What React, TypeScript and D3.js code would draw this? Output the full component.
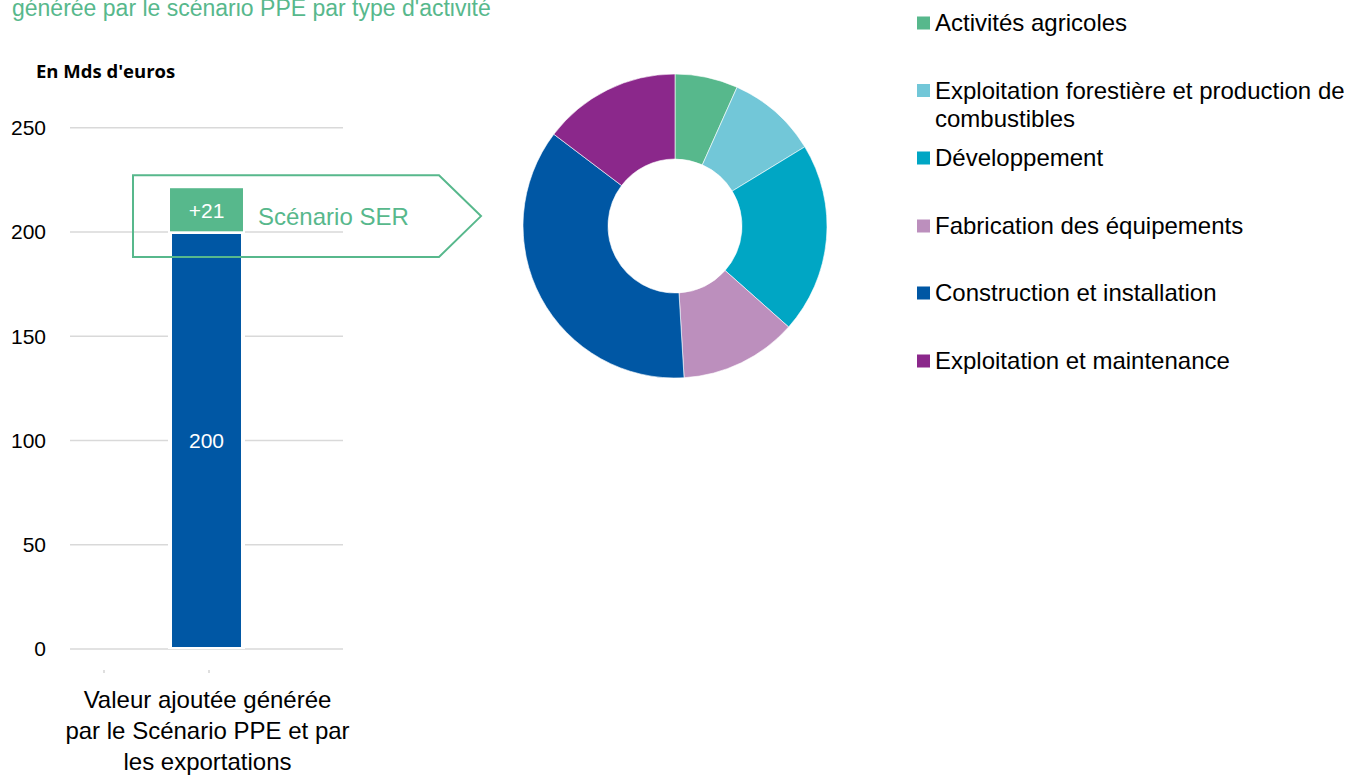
import React from "react";
import * as d3 from "d3";

// bar chart data
const barCategories = ["Valeur ajoutée générée par le Scénario PPE et par les exportations"];
const categoryLines = ["Valeur ajoutée générée", "par le Scénario PPE et par", "les exportations"];
const ppeValues = [200];
const serValues = [21];
const yTicks = [0, 50, 100, 150, 200, 250];

// donut data (share of value added, %)
const activities = [
  "Activités agricoles",
  "Exploitation forestière et production de combustibles",
  "Développement",
  "Fabrication des équipements",
  "Construction et installation",
  "Exploitation et maintenance",
];
const activityLegend = [
  ["Activités agricoles"],
  ["Exploitation forestière et production de", "combustibles"],
  ["Développement"],
  ["Fabrication des équipements"],
  ["Construction et installation"],
  ["Exploitation et maintenance"],
];
const activityShares = [6.7, 9.6, 20.3, 12.5, 36.3, 14.7];
const activityColors = ["#57B88C", "#72C7D8", "#00A6C4", "#BC8FBD", "#0057A4", "#8B288B"];

const GREEN = "#57B88C";
const BLUE = "#0057A4";
const FONT = "'Liberation Sans', Arial, sans-serif";

export default function App() {
  const y = d3.scaleLinear().domain([0, 250]).range([649, 127.75]);
  const x = d3
    .scaleBand()
    .domain(barCategories)
    .range([70, 343])
    .paddingInner(0.5966)
    .paddingOuter(0.5966);

  const bw = x.bandwidth();
  const cat = barCategories[0];
  const bx = x(cat) as number;
  const cx = bx + bw / 2;
  const base = ppeValues[0];
  const ser = serValues[0];

  // donut
  const pie = d3
    .pie<number>()
    .sort(null)
    .value((d) => d);
  const arcs = pie(activityShares);
  const arc = d3.arc<d3.PieArcDatum<number>>().innerRadius(67).outerRadius(152);
  const donutX = 675;
  const donutY = 226;

  // annotation arrow round the SER part
  const aTop = y(base + ser) - 13;
  const aBot = y(base) + 25;
  const aLeft = bx - 39;
  const aRight = 439;
  const arrow = `M${aLeft},${aTop}H${aRight}L${aRight + 42},${(aTop + aBot) / 2}L${aRight},${aBot}H${aLeft}Z`;

  const legendRows = [23, 90.5, 158, 226, 293, 361];

  return (
    <svg
      width={1347}
      height={776}
      style={{ position: "absolute", left: 0, top: 0, background: "#fff" }}
      fontFamily={FONT}
    >
      {/* title (cut at the top, as in the source) */}
      <text x={12} y={15.5} fontSize={23} fill={GREEN}>
        générée par le scénario PPE par type d'activité
      </text>

      <text x={36} y={78} fontSize={18.5} fontWeight="bold" fontFamily="'Open Sans', sans-serif" fill="#000">
        En Mds d'euros
      </text>

      {/* gridlines and y labels */}
      {yTicks.map((t) => (
        <g key={t}>
          <line x1={70} x2={343} y1={y(t)} y2={y(t)} stroke="#D9D9D9" strokeWidth={1.5} />
          <text x={46} y={y(t)} dy="0.35em" textAnchor="end" fontSize={21} fill="#000">
            {t}
          </text>
        </g>
      ))}

      {/* stacked bar */}
      <rect x={bx - 4} y={y(base)} width={bw + 8} height={y(0) - y(base)} fill="#fff" />
      <rect x={bx} y={y(base) + 2} width={bw} height={y(0) - y(base) - 4} fill={BLUE} />
      <rect x={bx - 4} y={y(base + ser) - 1} width={bw + 8} height={y(base) - y(base + ser) + 2} fill="#fff" />
      <rect x={bx - 2} y={y(base + ser)} width={bw + 4} height={y(base) - y(base + ser) - 0.7} fill={GREEN} />
      <text x={cx} y={(y(base + ser) + y(base)) / 2 + 1} dy="0.35em" textAnchor="middle" fontSize={21} fill="#fff">
        +{ser}
      </text>
      <text x={cx} y={y(base / 2)} dy="0.35em" textAnchor="middle" fontSize={21} fill="#fff">
        {base}
      </text>

      <path d={arrow} fill="none" stroke={GREEN} strokeWidth={2} />
      <text x={258} y={(aTop + aBot) / 2} dy="0.35em" fontSize={24} fill={GREEN}>
        Scénario SER
      </text>

      {/* tiny axis ticks */}
      {[bx - 68, bx + 37].map((tx, i) => (
        <line key={i} x1={tx} x2={tx} y1={670} y2={673} stroke="#BFBFBF" strokeWidth={1} />
      ))}

      {/* category label */}
      {categoryLines.map((l, i) => (
        <text key={i} x={cx + 1} y={708 + i * 31} textAnchor="middle" fontSize={24} fill="#000">
          {l}
        </text>
      ))}

      {/* donut */}
      <g transform={`translate(${donutX},${donutY})`}>
        {arcs.map((a, i) => (
          <path key={activities[i]} d={arc(a) as string} fill={activityColors[i]} stroke="#fff" strokeWidth={0.6} />
        ))}
      </g>

      {/* legend */}
      {activityLegend.map((lines, i) => (
        <g key={i}>
          <rect x={917} y={legendRows[i] - 6.5} width={13} height={13} fill={activityColors[i]} />
          {lines.map((l, j) => (
            <text key={j} x={935} y={legendRows[i] + j * 28} dy="0.35em" fontSize={24} fill="#000">
              {l}
            </text>
          ))}
        </g>
      ))}
    </svg>
  );
}
